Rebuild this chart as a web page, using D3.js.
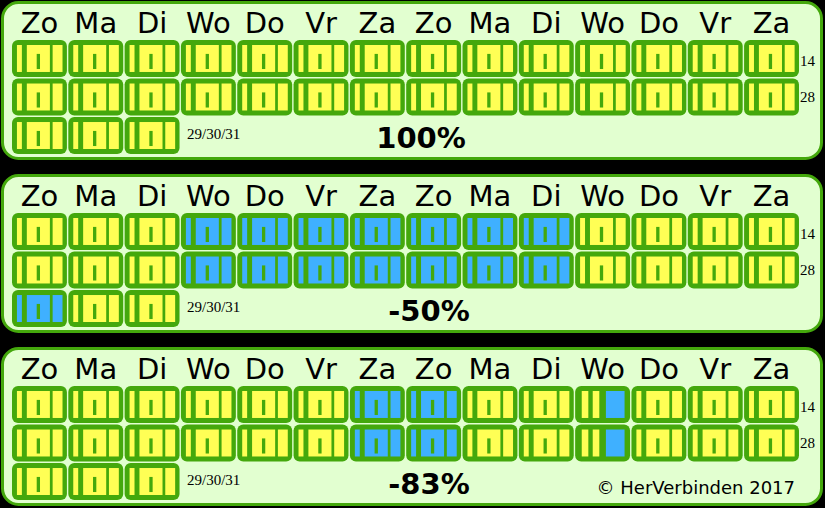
<!DOCTYPE html>
<html><head><meta charset="utf-8">
<script src="https://cdn.jsdelivr.net/npm/d3@7"></script>
<style>body{margin:0;background:#000}</style></head>
<body><svg id="chart"></svg>
<script>
// jours en en-tête
var days = ["Zo","Ma","Di","Wo","Do","Vr","Za","Zo","Ma","Di","Wo","Do","Vr","Za"];
var percents = ["100%","-50%","-83%"];
var rowLabels = ["14","28","29/30/31"];
// état des cases par panneau : [ligne, colonne] (bleu / partiel)
var blue1 = [];
var blue2 = [[0,3],[0,4],[0,5],[0,6],[0,7],[0,8],[0,9],[1,3],[1,4],[1,5],[1,6],[1,7],[1,8],[1,9],[2,0]];
var blue3 = [[0,6],[0,7],[1,6],[1,7]];
var part3 = [[0,10],[1,10]];
var panels = [{blue: blue1, part: []}, {blue: blue2, part: []}, {blue: blue3, part: part3}];

var width = 825, height = 508;
var svg = d3.select("#chart").attr("width", width).attr("height", height);
svg.append("rect").attr("width", width).attr("height", height).attr("fill", "#000");

var x = d3.scaleBand().domain(d3.range(14)).range([12, 799]).paddingInner(0.025);
var y = d3.scaleBand().domain(d3.range(3)).range([40, 154]).paddingInner(0.04);
var py = d3.scaleLinear().domain([0, 1]).range([0, 173]);

var green = "#44a80c", yellow = "#ffff55", blue = "#3fb0ff";

panels.forEach(function (p, k) {
    var g = svg.append("g").attr("transform", "translate(0," + py(k) + ")");
    g.append("rect").attr("x", 2.5).attr("y", 2.5).attr("width", 819).attr("height", 156)
        .attr("rx", 16).attr("fill", "#e2ffd0").attr("stroke", green).attr("stroke-width", 3);

    g.selectAll("text.day").data(days).enter().append("text")
        .attr("x", (d, i) => x(i) + x.bandwidth() / 2).attr("y", 33)
        .attr("text-anchor", "middle").attr("font-family", "DejaVu Sans")
        .attr("font-size", 29).text(d => d);

    var cells = [];
    for (var r = 0; r < 3; r++) for (var c = 0; c < (r < 2 ? 14 : 3); c++) {
        var t = "y";
        if (p.blue.some(b => b[0] == r && b[1] == c)) t = "b";
        if (p.part.some(b => b[0] == r && b[1] == c)) t = "p";
        cells.push({r: r, c: c, t: t});
    }
    var w = x.bandwidth(), h = y.bandwidth();
    var cg = g.selectAll("g.cell").data(cells).enter().append("g")
        .attr("transform", d => "translate(" + x(d.c) + "," + y(d.r) + ")");
    cg.append("rect").attr("width", w).attr("height", h).attr("rx", 6).attr("fill", green);
    cg.each(function (d) {
        var s = d3.select(this), col = d.t == "b" ? blue : yellow;
        var iy = 5, ih = h - 10;
        function bar(a, b, c) {
            s.append("rect").attr("x", w * a).attr("y", iy).attr("width", w * (b - a)).attr("height", ih).attr("fill", c);
        }
        if (d.t == "p") {
            bar(0.12, 0.24, yellow); bar(0.32, 0.44, yellow); bar(0.56, 0.9, blue);
            return;
        }
        bar(0.09, 0.18, col); bar(0.27, 0.69, col); bar(0.74, 0.92, col);
        s.append("rect").attr("x", w * 0.45).attr("y", iy + ih * 0.33).attr("width", w * 0.06).attr("height", ih * 0.56).attr("fill", green);
    });

    g.append("text").attr("x", 800).attr("y", 66).attr("font-family", "Liberation Serif").attr("font-size", 15).text(rowLabels[0]);
    g.append("text").attr("x", 800).attr("y", 102).attr("font-family", "Liberation Serif").attr("font-size", 15).text(rowLabels[1]);
    g.append("text").attr("x", 187).attr("y", 139).attr("font-family", "Liberation Serif").attr("font-size", 15).text(rowLabels[2]);
    g.append("text").attr("x", 421 + (k ? 8 : 0)).attr("y", 148).attr("text-anchor", "middle")
        .attr("font-family", "DejaVu Sans").attr("font-weight", "bold").attr("font-size", 29).text(percents[k]);
});

svg.append("text").attr("x", 795).attr("y", 494).attr("text-anchor", "end")
    .attr("font-family", "DejaVu Sans").attr("font-size", 18).text("© HerVerbinden 2017");
</script></body></html>
